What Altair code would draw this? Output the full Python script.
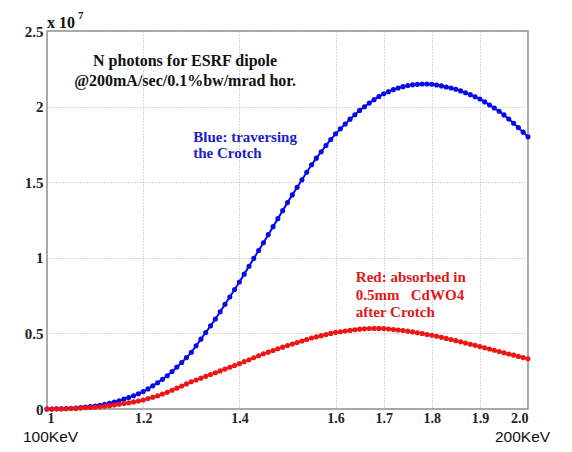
import altair as alt
import pandas as pd

# x sampling grid (energy, arbitrary units 1..2)
x_vals = [round(1 + i * 0.01, 2) for i in range(101)]

# Blue: traversing the Crotch (units of 1e7)
blue_vals = [
    0.000, 0.000, 0.001, 0.002, 0.003, 0.005, 0.007, 0.010, 0.013, 0.016,
    0.020, 0.025, 0.031, 0.038, 0.046, 0.055, 0.065, 0.076, 0.088, 0.101,
    0.115, 0.133, 0.153, 0.174, 0.196, 0.220, 0.248, 0.277, 0.308, 0.340,
    0.375, 0.418, 0.462, 0.506, 0.550, 0.595, 0.643, 0.692, 0.741, 0.790,
    0.840, 0.892, 0.944, 0.996, 1.048, 1.100, 1.153, 1.206, 1.259, 1.312,
    1.365, 1.416, 1.466, 1.516, 1.566, 1.615, 1.659, 1.701, 1.743, 1.782,
    1.820, 1.853, 1.885, 1.917, 1.946, 1.975, 1.999, 2.023, 2.046, 2.066,
    2.085, 2.099, 2.112, 2.123, 2.132, 2.140, 2.144, 2.147, 2.149, 2.149,
    2.148, 2.143, 2.137, 2.130, 2.123, 2.115, 2.104, 2.092, 2.079, 2.065,
    2.050, 2.031, 2.011, 1.991, 1.969, 1.945, 1.918, 1.890, 1.861, 1.831,
    1.800,
]

# Red: absorbed in 0.5mm CdWO4 after Crotch (units of 1e7)
red_vals = [
    0.000, 0.000, 0.001, 0.001, 0.002, 0.003, 0.004, 0.006, 0.008, 0.010,
    0.012, 0.015, 0.018, 0.022, 0.026, 0.031, 0.036, 0.041, 0.047, 0.053,
    0.060, 0.069, 0.078, 0.088, 0.099, 0.110, 0.124, 0.138, 0.152, 0.166,
    0.180, 0.192, 0.204, 0.216, 0.228, 0.240, 0.252, 0.264, 0.276, 0.288,
    0.300, 0.313, 0.326, 0.339, 0.352, 0.365, 0.376, 0.387, 0.398, 0.409,
    0.420, 0.430, 0.440, 0.450, 0.460, 0.470, 0.477, 0.485, 0.492, 0.500,
    0.507, 0.511, 0.516, 0.520, 0.524, 0.528, 0.530, 0.532, 0.533, 0.533,
    0.532, 0.529, 0.526, 0.522, 0.519, 0.515, 0.510, 0.504, 0.499, 0.493,
    0.488, 0.481, 0.474, 0.467, 0.459, 0.452, 0.444, 0.436, 0.428, 0.421,
    0.413, 0.405, 0.397, 0.389, 0.380, 0.372, 0.364, 0.356, 0.348, 0.340,
    0.332,
]

x_ticks = [1, 1.2, 1.4, 1.6, 1.7, 1.8, 1.9, 2.0]
y_ticks = [0, 0.5, 1, 1.5, 2, 2.5]

BLUE = "#0a0ae6"
RED = "#ee1515"
SERIF = "Liberation Serif, Times New Roman, DejaVu Serif, serif"
SANS = "Liberation Sans, Arial, sans-serif"

df = pd.DataFrame({"x": x_vals, "blue": blue_vals, "red": red_vals})
one = pd.DataFrame({"a": [0]})

xs = alt.X(
    "x:Q",
    scale=alt.Scale(domain=[1, 2], nice=False, zero=False),
    axis=alt.Axis(
        values=x_ticks, title=None, grid=True, gridDash=[1, 2], gridColor="#b0b0b0",
        ticks=False, domain=False, labelFont=SERIF, labelFontWeight="bold",
        labelFontSize=14, labelColor="#222", labelPadding=2,
        labelExpr="datum.value == 1 ? '1' : format(datum.value, '.1f')",
    ),
)
ys_axis = alt.Axis(
    values=y_ticks, title=None, grid=True, gridDash=[1, 2], gridColor="#b0b0b0",
    ticks=False, domain=False, labelFont=SERIF, labelFontWeight="bold",
    labelFontSize=15, labelColor="#222", labelPadding=4,
    labelExpr="format(datum.value, '~g')",
)
yscale = alt.Scale(domain=[0, 2.5], nice=False)

base = alt.Chart(df)
blue_line = base.mark_line(color=BLUE, strokeWidth=2).encode(
    x=xs, y=alt.Y("blue:Q", scale=yscale, axis=ys_axis))
blue_pts = base.mark_circle(color=BLUE, size=26, opacity=1).encode(
    x="x:Q", y=alt.Y("blue:Q", scale=yscale))
red_line = base.mark_line(color=RED, strokeWidth=2).encode(
    x="x:Q", y=alt.Y("red:Q", scale=yscale))
red_pts = base.mark_circle(color=RED, size=26, opacity=1).encode(
    x="x:Q", y=alt.Y("red:Q", scale=yscale))

title_df = pd.DataFrame({
    "x": [1.287, 1.287], "y": [2.30, 2.17],
    "t": ["N photons for ESRF dipole", "@200mA/sec/0.1%bw/mrad hor."],
})
title_txt = alt.Chart(title_df).mark_text(
    font=SERIF, fontWeight="bold", fontSize=16, color="#111", align="center",
    baseline="middle").encode(x="x:Q", y="y:Q", text="t:N")

blue_df = pd.DataFrame({"x": [1.304, 1.304], "y": [1.80, 1.69],
                        "t": ["Blue: traversing", "the Crotch"]})
blue_txt = alt.Chart(blue_df).mark_text(
    font=SERIF, fontWeight="bold", fontSize=15, color="#2020c8", align="left",
    baseline="middle").encode(x="x:Q", y="y:Q", text="t:N")

red_df = pd.DataFrame({"x": [1.642, 1.642, 1.642], "y": [0.874, 0.755, 0.642],
                       "t": ["Red: absorbed in", "0.5mm\u00a0\u00a0\u00a0CdWO4",
                             "after Crotch"]})
red_txt = alt.Chart(red_df).mark_text(
    font=SERIF, fontWeight="bold", fontSize=15, color="#e01818", align="left",
    baseline="middle").encode(x="x:Q", y="y:Q", text="t:N")

exp_x10 = alt.Chart(one).mark_text(
    font=SERIF, fontWeight="bold", fontSize=16, color="#111", align="left",
    baseline="middle").encode(x=alt.value(0), y=alt.value(-8), text=alt.value("x 10"))
exp_7 = alt.Chart(one).mark_text(
    font=SERIF, fontWeight="bold", fontSize=11, color="#111", align="left",
    baseline="middle").encode(x=alt.value(31), y=alt.value(-15), text=alt.value("7"))
kev100 = alt.Chart(one).mark_text(
    font=SANS, fontSize=15.5, color="#111", align="left", baseline="middle").encode(
    x=alt.value(-24), y=alt.value(405.5), text=alt.value("100KeV"))
kev200 = alt.Chart(one).mark_text(
    font=SANS, fontSize=15.5, color="#111", align="left", baseline="middle").encode(
    x=alt.value(448), y=alt.value(405.5), text=alt.value("200KeV"))

chart = alt.layer(
    blue_line, red_line, blue_pts, red_pts, title_txt, blue_txt, red_txt,
    exp_x10, exp_7, kev100, kev200,
).properties(
    width=481, height=378,
    autosize=alt.AutoSizeParams(type="none"),
    padding={"left": 39, "top": 23, "right": 36, "bottom": 35},
    background="white",
).configure_view(
    stroke="#8c8c8c", strokeWidth=1.5,
)

chart.save("out.html", embed_options={"renderer": "svg", "actions": False})
